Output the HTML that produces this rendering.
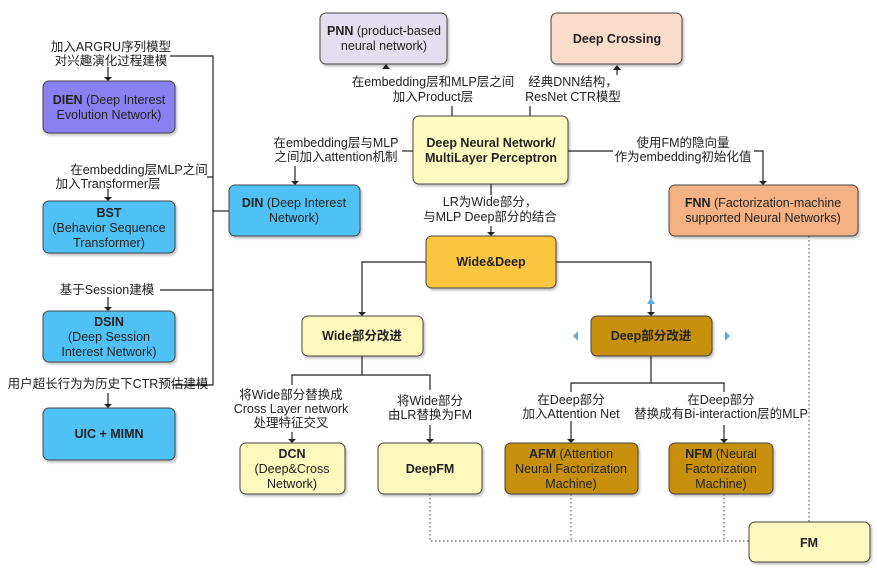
<!DOCTYPE html>
<html><head><meta charset="utf-8"><style>
html,body{margin:0;padding:0;background:#fff;}
svg{display:block}
text{font-family:"Liberation Sans","Noto Sans CJK SC",sans-serif;font-size:12.5px;fill:#222;}
.b{font-weight:bold}
.l{stroke:#222;stroke-width:1.2;fill:none}
.d{stroke:#444;stroke-width:1;fill:none;stroke-dasharray:1.5 2.5}
.bx{stroke:#444;stroke-width:1}
</style></head><body>
<svg width="877" height="573" viewBox="0 0 877 573">
<defs>
<filter id="s" x="-10%" y="-10%" width="130%" height="140%"><feDropShadow dx="1.5" dy="2" stdDeviation="1.2" flood-color="#000" flood-opacity="0.25"/></filter>
</defs>
<g class="l">
<polyline points="170,56 213,56 213,385 172,385"/>
<line x1="207" y1="177" x2="213" y2="177"/>
<line x1="160" y1="290" x2="213" y2="290"/>
<line x1="213" y1="211" x2="229" y2="211"/>
<line x1="402" y1="151" x2="413" y2="151"/>
<line x1="452" y1="106" x2="452" y2="116"/>
<line x1="530" y1="106" x2="530" y2="116"/>
<line x1="568" y1="151" x2="613" y2="151"/>
<polyline points="754,151 763,151 763,181"/>
<line x1="491" y1="184" x2="491" y2="195"/>
<line x1="491" y1="226" x2="491" y2="232"/>
<polyline points="426,262 362,262 362,312"/>
<polyline points="556,262 651,262 651,312"/>
<line x1="362" y1="356" x2="362" y2="375"/>
<polyline points="292,385 292,375 430,375 430,390"/>
<line x1="292" y1="432" x2="292" y2="439"/>
<line x1="430" y1="425" x2="430" y2="439"/>
<line x1="651" y1="356" x2="651" y2="383"/>
<polyline points="571,392 571,383 724,383 724,392"/>
<line x1="571" y1="421" x2="571" y2="439"/>
<line x1="724" y1="425" x2="724" y2="439"/>
<line x1="108" y1="67" x2="108" y2="77"/>
<line x1="108" y1="189" x2="108" y2="197"/>
<line x1="108" y1="297" x2="108" y2="307"/>
<line x1="108" y1="393" x2="108" y2="404"/>
<line x1="295" y1="166" x2="295" y2="181"/>
<line x1="617" y1="75" x2="617" y2="67"/>
</g>
<g fill="#222">
<path d="M104,77 L112,77 L108,81z"/><path d="M104,197 L112,197 L108,201z"/>
<path d="M104,307 L112,307 L108,311z"/><path d="M104,404 L112,404 L108,408z"/>
<path d="M291,181 L299,181 L295,185z"/><path d="M382,69 L390,69 L386,64z"/>
<path d="M613,70 L621,70 L617,65z"/><path d="M759,181 L767,181 L763,185z"/>
<path d="M487,232 L495,232 L491,236z"/><path d="M358,312 L366,312 L362,316z"/>
<path d="M647,312 L655,312 L651,316z"/><path d="M288,439 L296,439 L292,443z"/>
<path d="M426,439 L434,439 L430,443z"/><path d="M567,439 L575,439 L571,443z"/>
<path d="M720,439 L728,439 L724,443z"/>
</g>
<path d="M647,304 L655,304 L651,298z" fill="#5aaee6"/>
<path d="M578,331 L578,341 L573,336z" fill="#5aaee6"/>
<path d="M725,331 L725,341 L730,336z" fill="#5aaee6"/>
<g class="d">
<polyline points="430,494 430,541 749,541"/>
<line x1="571" y1="494" x2="571" y2="541"/>
<line x1="724" y1="494" x2="724" y2="541"/>
<line x1="809" y1="236" x2="809" y2="522"/>
</g>
<g filter="url(#s)" class="bx">
<rect x="320" y="13" width="127" height="51" rx="6" fill="#e4def0"/>
<rect x="551" y="13" width="131" height="51" rx="6" fill="#fbdccb"/>
<rect x="413" y="116" width="155" height="68" rx="6" fill="#fdfcc0"/>
<rect x="43" y="81" width="132" height="52" rx="6" fill="#8b80f2"/>
<rect x="43" y="201" width="132" height="52" rx="6" fill="#4fc1f5"/>
<rect x="229" y="185" width="131" height="51" rx="6" fill="#4fc1f5"/>
<rect x="43" y="311" width="132" height="51" rx="6" fill="#4fc1f5"/>
<rect x="43" y="408" width="132" height="52" rx="6" fill="#4fc1f5"/>
<rect x="669" y="185" width="189" height="51" rx="6" fill="#f4b183"/>
<rect x="426" y="236" width="130" height="52" rx="6" fill="#fcc53f"/>
<rect x="302" y="316" width="121" height="40" rx="6" fill="#fdf9bc"/>
<rect x="591" y="316" width="121" height="40" rx="6" fill="#c6900a"/>
<rect x="240" y="443" width="105" height="51" rx="6" fill="#fdf9bc"/>
<rect x="378" y="443" width="104" height="51" rx="6" fill="#fdf9bc"/>
<rect x="505" y="443" width="133" height="51" rx="6" fill="#c6900a"/>
<rect x="669" y="443" width="104" height="51" rx="6" fill="#c6900a"/>
<rect x="749" y="522" width="121" height="40" rx="6" fill="#fdf9bc"/>
</g>
<g text-anchor="middle">
<text x="384" y="35"><tspan class="b">PNN</tspan> (product-based</text>
<text x="384" y="50">neural network)</text>
<text x="617" y="43" class="b">Deep Crossing</text>
<text x="491" y="147" class="b">Deep Neural Network/</text>
<text x="491" y="162" class="b">MultiLayer Perceptron</text>
<text x="109" y="104"><tspan class="b">DIEN</tspan> (Deep Interest</text>
<text x="109" y="119">Evolution Network)</text>
<text x="109" y="217" class="b">BST</text>
<text x="109" y="232">(Behavior Sequence</text>
<text x="109" y="247">Transformer)</text>
<text x="294" y="207"><tspan class="b">DIN</tspan> (Deep Interest</text>
<text x="294" y="222">Network)</text>
<text x="109" y="326" class="b">DSIN</text>
<text x="109" y="341">(Deep Session</text>
<text x="109" y="356">Interest Network)</text>
<text x="109" y="438" class="b">UIC + MIMN</text>
<text x="763" y="207"><tspan class="b">FNN</tspan> (Factorization-machine</text>
<text x="763" y="222">supported Neural Networks)</text>
<text x="491" y="266" class="b">Wide&amp;Deep</text>
<text x="362" y="340" class="b">Wide部分改进</text>
<text x="651" y="340" class="b">Deep部分改进</text>
<text x="292" y="458" class="b">DCN</text>
<text x="292" y="473">(Deep&amp;Cross</text>
<text x="292" y="488">Network)</text>
<text x="430" y="473" class="b">DeepFM</text>
<text x="571" y="458"><tspan class="b">AFM</tspan> (Attention</text>
<text x="571" y="473">Neural Factorization</text>
<text x="571" y="488">Machine)</text>
<text x="721" y="458"><tspan class="b">NFM</tspan> (Neural</text>
<text x="721" y="473">Factorization</text>
<text x="721" y="488">Machine)</text>
<text x="809" y="547" class="b">FM</text>
<text x="111" y="51">加入ARGRU序列模型</text>
<text x="111" y="65">对兴趣演化过程建模</text>
<text x="139" y="174">在embedding层MLP之间</text>
<text x="108" y="188">加入Transformer层</text>
<text x="107" y="294">基于Session建模</text>
<text x="108" y="388">用户超长行为为历史下CTR预估建模</text>
<text x="336" y="147">在embedding层与MLP</text>
<text x="336" y="161">之间加入attention机制</text>
<text x="433" y="86">在embedding层和MLP层之间</text>
<text x="433" y="101">加入Product层</text>
<text x="573" y="86">经典DNN结构，</text>
<text x="573" y="101">ResNet CTR模型</text>
<text x="683" y="147">使用FM的隐向量</text>
<text x="683" y="161">作为embedding初始化值</text>
<text x="490" y="206">LR为Wide部分，</text>
<text x="490" y="221">与MLP Deep部分的结合</text>
<text x="291" y="399">将Wide部分替换成</text>
<text x="291" y="413">Cross Layer network</text>
<text x="291" y="427">处理特征交叉</text>
<text x="430" y="405">将Wide部分</text>
<text x="430" y="419">由LR替换为FM</text>
<text x="571" y="404">在Deep部分</text>
<text x="571" y="418">加入Attention Net</text>
<text x="721" y="404">在Deep部分</text>
<text x="721" y="418">替换成有Bi-interaction层的MLP</text>
</g>
</svg>
</body></html>
